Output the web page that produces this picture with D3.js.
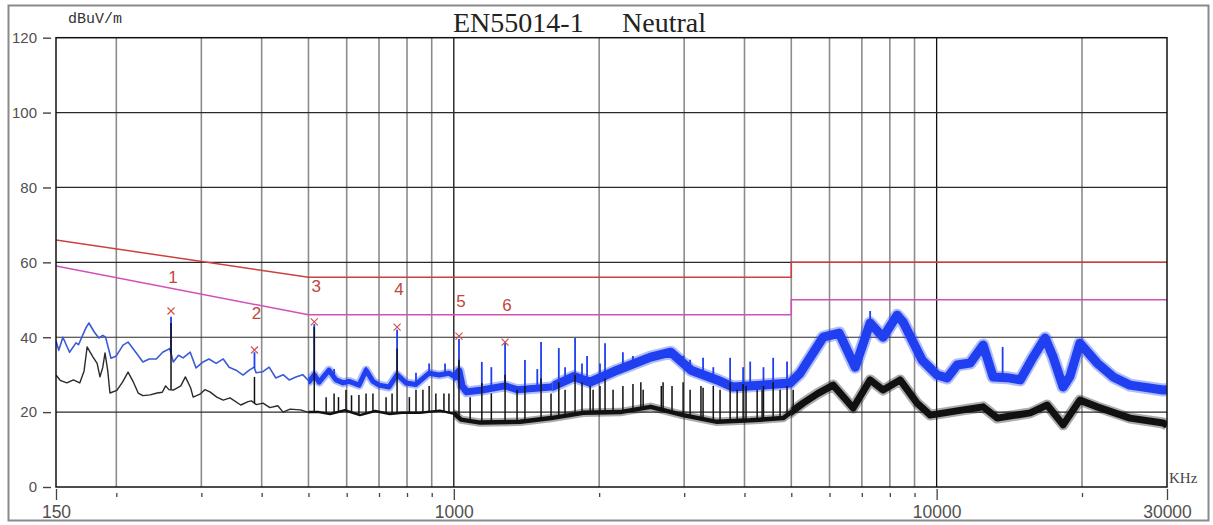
<!DOCTYPE html>
<html>
<head>
<meta charset="utf-8">
<script src="https://cdn.jsdelivr.net/npm/d3@7"></script>
<style>
  body { margin: 0; background: #fff; }
</style>
</head>
<body>
<div id="chart"></div>
<script>
// grid / axis values
const gridFreqs = [200, 300, 400, 500, 600, 700, 800, 900, 1000, 2000, 3000, 4000, 5000, 6000, 7000, 8000, 9000, 10000, 20000]
const xLabels = [150, 1000, 10000, 30000]
const yTicks = [0, 20, 40, 60, 80, 100, 120]

// EN55014-1 limits [kHz, dBuV]
const qpLimit = [[150, 66], [500, 56], [5000, 56], [5000, 60], [30000, 60]]
const avLimit = [[150, 59], [500, 46], [5000, 46], [5000, 50], [30000, 50]]

// markers
const markerFreq = [259.6, 386.5, 514, 763, 1025, 1277]
const markerDb = [47.0, 36.6, 44.1, 42.7, 40.3, 38.7]
const markerLabelDb = [56.1, 46.6, 53.7, 52.9, 49.7, 48.6]

// peak trace (blue) [kHz, dBuV]
const peakTrace = [
  [150, 39], [152, 36.5], [155, 40], [160, 36], [165, 38.5], [167, 38], [173, 42.5], [175.5, 43.8],
  [180, 41.4], [184, 39.8], [187.5, 40.5], [190, 40], [195, 34.4], [200, 35], [206.5, 37.9], [211.5, 38.7],
  [220, 35.8], [227, 33.4], [234, 34.2], [242, 34.2], [249.5, 36], [254, 36.5], [258, 37], [262.5, 33.4],
  [269, 35.2], [275, 34.5], [284.5, 36], [292.5, 31.8], [302.5, 33.4], [311, 34.2], [322, 33], [333, 34.2],
  [342.5, 32], [354, 31.2], [366, 29.9], [377, 31.2], [386, 32], [389.5, 30.5], [402.5, 30.8], [414.5, 32],
  [428, 29.1], [443, 30], [456, 28.6], [471, 29.4], [486.5, 30], [502, 28.2], [514, 30], [526, 28],
  [551.5, 31.2], [570, 28.6], [590, 27.8], [607, 28.2], [636.5, 27.2], [658, 31.2], [680, 28.2], [700, 27.2],
  [734, 26.7], [763, 30], [796, 27.8], [835, 27.4], [889, 30.4], [932, 29.9], [977, 30.4], [1005, 29.4],
  [1025, 31], [1040, 27], [1063, 25.4], [1143, 25.9], [1277, 27], [1352, 26], [1590, 26.7], [1773, 29.5],
  [1916, 28], [2178, 31.2], [2557, 34.7], [2814, 36], [3100, 31.2], [3510, 28.6], [3788, 26.7], [4455, 27.3],
  [4972, 27.8], [5215, 30.4], [5820, 40], [6283, 41.1], [6780, 32], [7283, 43.8], [7746, 40], [8283, 45.9],
  [8527, 44], [9330, 33.9], [10024, 29.9], [10513, 29.1], [11028, 32.6], [11733, 33.1], [12484, 37.9], [13092, 29.4],
  [14000, 29.2], [14900, 28.6], [15850, 34.7], [16780, 39.8], [17430, 34.7], [18280, 26.7], [18880, 29.5], [19800, 38.4],
  [21500, 33.1], [23210, 29.4], [25140, 27.2], [29460, 25.9], [30000, 26]
]

// average trace (black)
const avgTrace = [
  [150, 29.9], [153, 28.5], [158, 27.8], [163, 28.6], [168, 27.8], [171.5, 31], [174, 37.4], [176.5, 36],
  [179, 34.7], [182.5, 33], [185, 29.4], [187.5, 32], [189.5, 35.8], [192, 31], [194, 25.1], [200.5, 25.8],
  [206, 28], [211.5, 30.7], [217, 28], [222, 25.1], [227, 24.4], [235, 24.6], [243, 25.1], [249, 25.3],
  [253, 27], [257, 26], [262.5, 25.9], [272, 27], [278, 29.4], [285, 26.5], [288.5, 24], [298, 24.8],
  [305, 26], [312.5, 25.4], [323, 24], [333, 23.2], [344, 23.8], [362, 21.9], [375, 22.8], [381, 23],
  [390, 22], [402.5, 22.4], [416, 21.2], [432, 21.7], [443, 20], [458, 20.8], [481, 20.6], [498.5, 20],
  [526, 20], [554, 19.5], [595, 20.5], [639, 19.2], [687, 20.3], [737, 19.5], [781, 19.8], [852, 19.8],
  [936, 20.4], [1005, 19.5], [1035, 18], [1134, 17.2], [1373, 17.4], [1590, 18.4], [1853, 19.8], [2210, 20],
  [2557, 21.4], [2985, 19.2], [3510, 17.4], [4110, 17.8], [4810, 18.4], [5290, 22.4], [5680, 25], [6105, 27.2],
  [6715, 21.1], [7283, 28.6], [7746, 25.9], [8400, 28.6], [9110, 22.4], [9700, 19.2], [11350, 20.6], [12484, 21.4],
  [13350, 18.4], [15630, 19.8], [16940, 21.9], [18280, 16.6], [19800, 23.2], [21500, 21.4], [25140, 18.4], [29460, 17.1],
  [30000, 16.5]
]

// narrow spurs sticking out of the traces [kHz, top dBuV]
const peakSpurs = [
  [259.6, 45.5], [386.5, 36], [514, 43.5], [565, 31.5], [658, 32], [763, 42], [835, 30.5], [889, 33],
  [959, 33], [1025, 39.5], [1143, 33.4], [1196, 32], [1277, 38.5], [1404, 33.9], [1489, 31.5], [1516, 38.7],
  [1650, 37.1], [1700, 32], [1783, 39.8], [1843, 33], [1888, 35], [2008, 33], [2057, 38.4], [2240, 36],
  [2350, 35], [2440, 34], [2985, 35], [3086, 34], [3283, 34.5], [3447, 32], [3735, 34.5], [3974, 32],
  [4110, 33.5], [4379, 32], [4586, 34.5], [4900, 33.5], [7283, 47], [13700, 37.4]
]
const avgSpurs = [
  [259.6, 43.8], [386.5, 29.4], [514, 42.7], [544, 24], [565, 25], [577, 24], [598, 25.9], [614, 24.5],
  [636, 24.6], [658, 25], [680, 25], [724, 24], [745, 25], [763, 37], [809, 24], [835, 26],
  [863, 26], [889, 27], [918, 25], [954, 25], [977, 25], [1025, 34], [1081, 24], [1143, 27.8],
  [1196, 25], [1277, 30], [1352, 26], [1404, 27], [1516, 29], [1590, 25], [1650, 28], [1700, 26],
  [1783, 30], [1843, 28], [1916, 27], [1943, 26], [2008, 27], [2057, 29], [2137, 26], [2240, 27],
  [2350, 27.5], [2440, 28], [2467, 26], [2690, 27], [2713, 28], [2831, 27], [2985, 28], [3086, 26],
  [3250, 27], [3283, 26.5], [3447, 27], [3560, 26], [3735, 28], [3862, 26], [3974, 27.5], [4030, 27],
  [4249, 26], [4350, 26], [4379, 27], [4586, 28], [4740, 26], [4900, 27], [5045, 26]
]

const W = 1213, H = 525
const svg = d3.select('#chart').append('svg')
  .attr('width', W).attr('height', H)
  .style('font-family', '"Liberation Sans", Arial, sans-serif')

const x = d3.scaleLog().domain([150, 30000]).range([56, 1167])
const y = d3.scaleLinear().domain([0, 120]).range([487, 37.7])

// outer frame
svg.append('rect')
  .attr('x', 8.5).attr('y', 5.5).attr('width', 1200).attr('height', 515)
  .attr('fill', 'none').attr('stroke', '#8a8a8a').attr('stroke-width', 2)

const defs = svg.append('defs')
defs.append('clipPath').attr('id', 'plot')
  .append('rect').attr('x', 56).attr('y', 37.7).attr('width', 1111).attr('height', 449.3)

// grid
const grid = svg.append('g')
grid.selectAll('line.v').data(gridFreqs).enter().append('line')
  .attr('x1', d => x(d)).attr('x2', d => x(d))
  .attr('y1', y(120)).attr('y2', y(0))
  .attr('stroke', d => (d === 1000 || d === 10000) ? '#111' : '#8c8c8c')
  .attr('stroke-width', d => (d === 1000 || d === 10000) ? 1.3 : 1.6)
grid.selectAll('line.h').data(yTicks.slice(1, -1)).enter().append('line')
  .attr('x1', x(150)).attr('x2', x(30000))
  .attr('y1', d => y(d)).attr('y2', d => y(d))
  .attr('stroke', '#2a2a2a').attr('stroke-width', 1.2)

const line = d3.line().x(d => x(d[0])).y(d => y(d[1]))

// limit lines
const plot = svg.append('g').attr('clip-path', 'url(#plot)')
plot.append('path').attr('d', line(qpLimit))
  .attr('fill', 'none').attr('stroke', '#cc4040').attr('stroke-width', 1.5)
plot.append('path').attr('d', line(avLimit))
  .attr('fill', 'none').attr('stroke', '#d050b8').attr('stroke-width', 1.5)

// value of a trace at f (linear in log f), used as the foot of a spur
function traceAt(data, f) {
  const i = d3.bisector(d => d[0]).left(data, f)
  if (i <= 0) return data[0][1]
  if (i >= data.length) return data[data.length - 1][1]
  const a = data[i - 1], b = data[i]
  const t = (Math.log(f) - Math.log(a[0])) / (Math.log(b[0]) - Math.log(a[0]))
  return a[1] + t * (b[1] - a[1])
}

// the measured traces get fuzzier (thicker) as the frequency rises
function drawTrace(data, spurs, color, bands, spurWidth, key) {
  bands.forEach(([f0, f1, w, c], i) => {
    const id = `clip-${key}-${i}`
    defs.append('clipPath').attr('id', id)
      .append('rect').attr('x', x(f0)).attr('y', 37.7)
      .attr('width', x(f1) - x(f0)).attr('height', 449.3)
    const g = plot.append('g').attr('clip-path', `url(#${id})`)
    if (w > 3) {
      // soft noisy fringe around the thick band
      g.append('path').attr('d', line(data))
        .attr('fill', 'none').attr('stroke', c || color).attr('opacity', 0.35)
        .attr('stroke-width', w + 4).attr('stroke-linejoin', 'round')
    }
    g.append('path').attr('d', line(data))
      .attr('fill', 'none').attr('stroke', c || color)
      .attr('stroke-width', w).attr('stroke-linejoin', 'round')
  })
  plot.append('g').selectAll('line').data(spurs).enter().append('line')
    .attr('x1', d => x(d[0])).attr('x2', d => x(d[0]))
    .attr('y1', d => y(traceAt(data, d[0]))).attr('y2', d => y(d[1]))
    .attr('stroke', color).attr('stroke-width', spurWidth)
}

drawTrace(peakTrace, peakSpurs, '#1f3ff0',
  [[150, 500, 1.6, '#3a5ad8'], [500, 1000, 5], [1000, 1600, 7], [1600, 30000, 9]], 1.8, 'pk')
drawTrace(avgTrace, avgSpurs, '#111',
  [[150, 500, 1.4, '#2a2a2a'], [500, 1000, 2.5], [1000, 5000, 4.5], [5000, 30000, 7]], 1.5, 'av')

// plot frame
svg.append('rect')
  .attr('x', 56).attr('y', 37.7).attr('width', 1111).attr('height', 449.3)
  .attr('fill', 'none').attr('stroke', '#111').attr('stroke-width', 1.5)

// markers
const marks = svg.append('g')
marks.selectAll('path').data(markerFreq).enter().append('path')
  .attr('d', (d, i) => {
    const cx = x(d), cy = y(markerDb[i]), s = 3.5
    return `M${cx - s},${cy - s}L${cx + s},${cy + s}M${cx - s},${cy + s}L${cx + s},${cy - s}`
  })
  .attr('stroke', '#d05050').attr('stroke-width', 1.2).attr('fill', 'none')
marks.selectAll('text').data(markerFreq).enter().append('text')
  .attr('x', d => x(d) + 2)
  .attr('y', (d, i) => y(markerLabelDb[i]))
  .attr('dy', '0.36em')
  .attr('text-anchor', 'middle')
  .attr('font-size', 17)
  .attr('fill', '#c0463c')
  .text((d, i) => i + 1)

// y axis
const yAxis = svg.append('g').attr('transform', 'translate(51,0)')
  .call(d3.axisLeft(y).tickValues(yTicks).tickSize(8).tickPadding(6))
yAxis.select('.domain').remove()
yAxis.selectAll('line').attr('stroke', '#444').attr('stroke-width', 1.4)
yAxis.selectAll('text').attr('font-size', 15).attr('fill', '#505050')
  .attr('font-family', '"Liberation Sans", Arial, sans-serif')

// x axis
const xAxis = svg.append('g').attr('transform', 'translate(0,487)')
  .call(d3.axisBottom(x).tickValues([150, ...gridFreqs, 30000]).tickSize(13)
    .tickFormat(d => xLabels.includes(d) ? d : ''))
xAxis.select('.domain').remove()
xAxis.selectAll('line')
  .attr('y1', d => xLabels.includes(d) ? 2 : 6)
  .attr('y2', d => xLabels.includes(d) ? 13 : 10)
  .attr('stroke', '#444').attr('stroke-width', 1.3)
xAxis.selectAll('text').attr('y', 31).attr('dy', 0)
  .attr('font-size', 17.5).attr('fill', '#505050')
  .attr('font-family', '"Liberation Sans", Arial, sans-serif')

// titles
svg.append('text').attr('x', 453).attr('y', 32)
  .attr('font-family', '"Liberation Serif", "Times New Roman", serif')
  .attr('font-size', 28).attr('fill', '#222').text('EN55014-1')
svg.append('text').attr('x', 622).attr('y', 32)
  .attr('font-family', '"Liberation Serif", "Times New Roman", serif')
  .attr('font-size', 28).attr('fill', '#222').text('Neutral')
svg.append('text').attr('x', 68).attr('y', 23)
  .attr('font-family', '"Liberation Mono", "Courier New", monospace')
  .attr('font-size', 15).attr('fill', '#333').text('dBuV/m')
svg.append('text').attr('x', 1169).attr('y', 483)
  .attr('font-family', '"Liberation Serif", "Times New Roman", serif')
  .attr('font-size', 15).attr('fill', '#444').text('KHz')
</script>
</body>
</html>
